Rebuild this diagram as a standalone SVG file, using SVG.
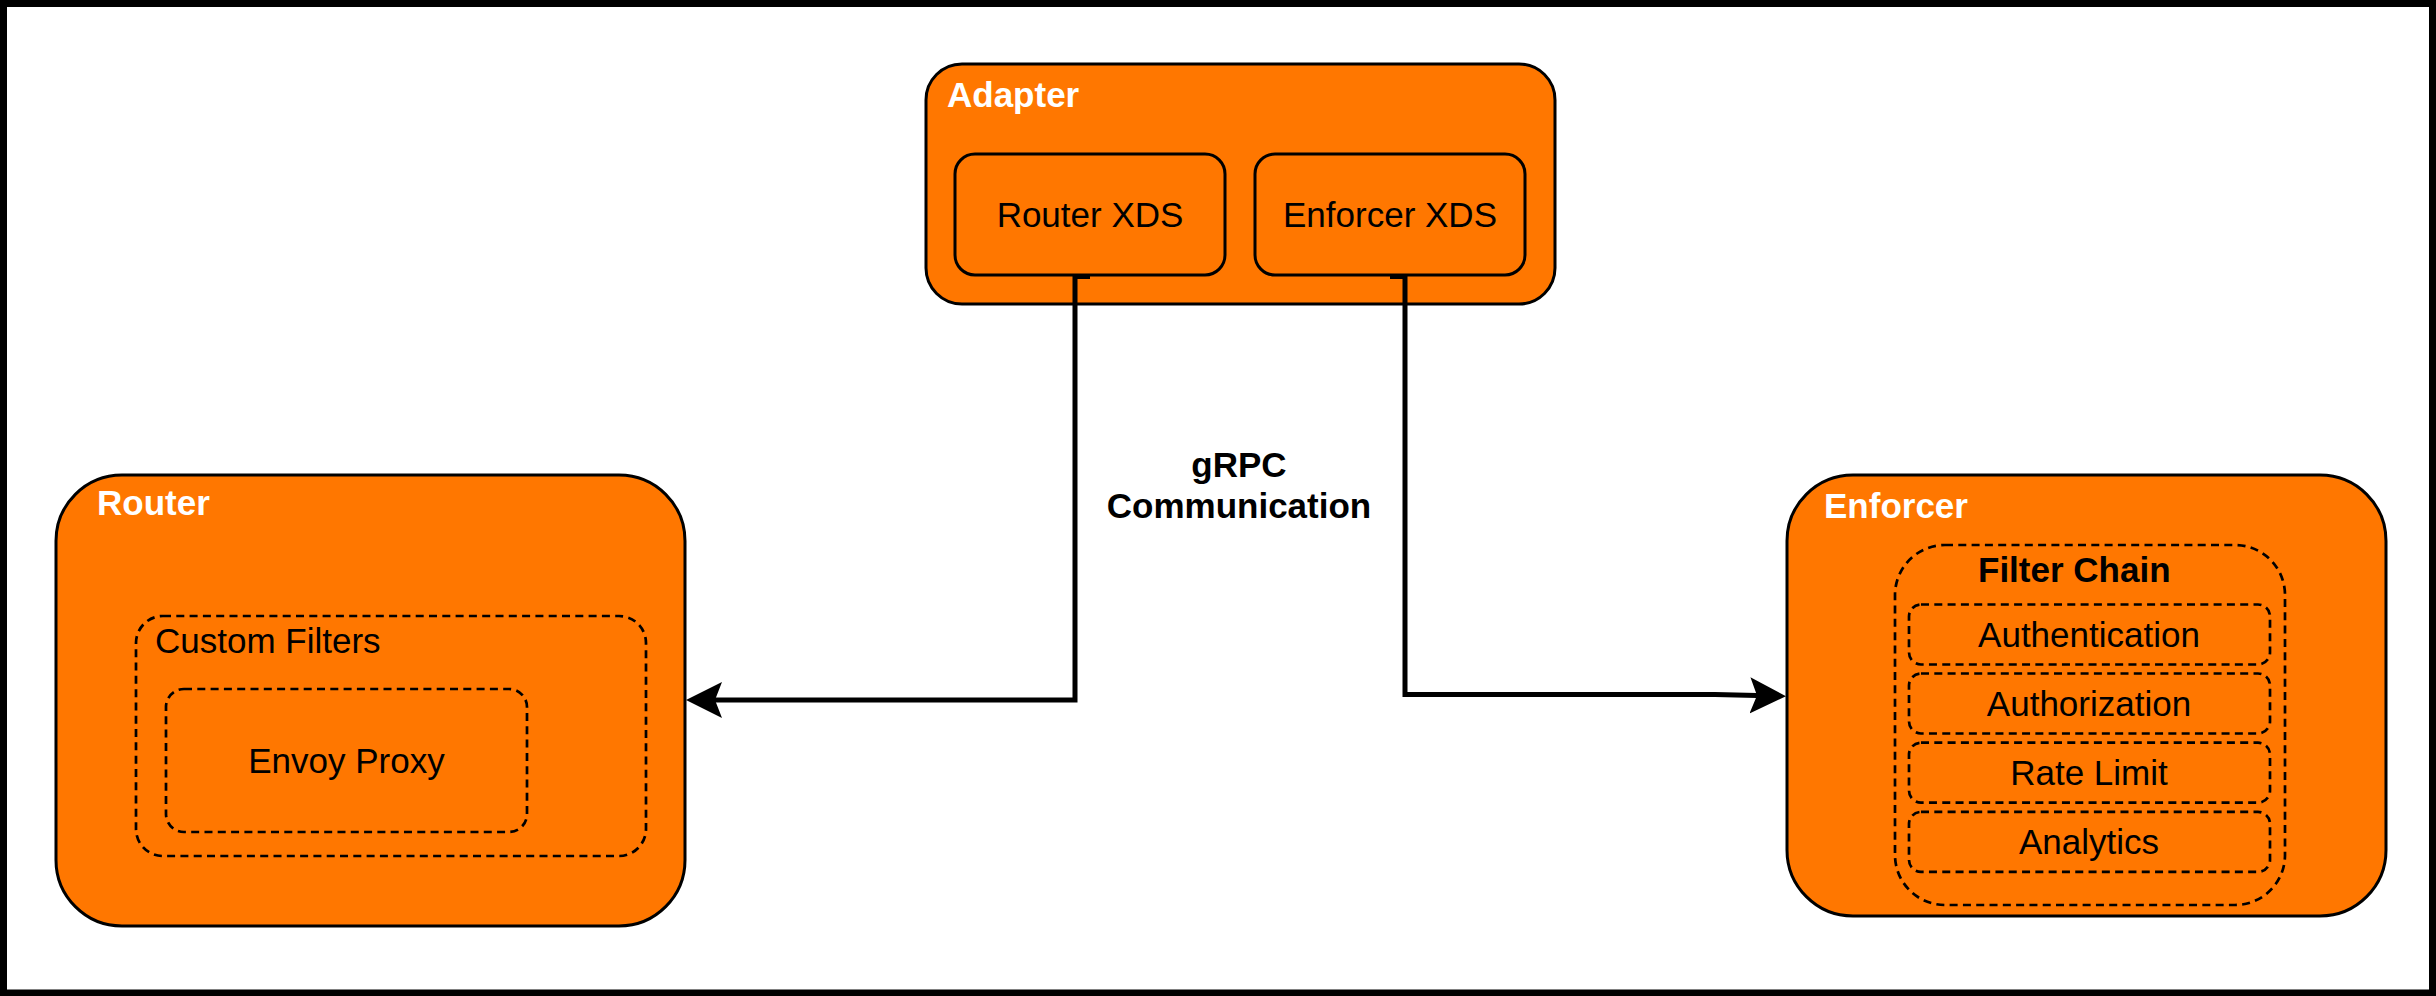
<svg xmlns="http://www.w3.org/2000/svg" width="2436" height="996" viewBox="0 0 2436 996">
<defs>
<style>
.frame{fill:#ffffff;stroke:#000000;stroke-width:7}
.box{fill:#FF7700;stroke:#000000;stroke-width:3}
.dash{fill:none;stroke:#000000;stroke-width:2.7;stroke-dasharray:8 5.3}
.edge{fill:none;stroke:#000000;stroke-width:5;stroke-linejoin:miter}
.t{font-family:"Liberation Sans",Arial,Helvetica,sans-serif;font-size:35px;fill:#000000}
.tb{font-family:"Liberation Sans",Arial,Helvetica,sans-serif;font-size:35px;font-weight:bold;fill:#000000}
.tw{font-family:"Liberation Sans",Arial,Helvetica,sans-serif;font-size:35px;font-weight:bold;fill:#ffffff}
.c{text-anchor:middle}
</style>
<marker id="arrow" markerUnits="userSpaceOnUse" markerWidth="40" markerHeight="40" viewBox="0 0 40 40" refX="7" refY="20" orient="auto">
<path d="M0,2 L36,20 L0,38 L7,20 Z" fill="#000000"/>
</marker>
</defs>
<rect class="frame" x="3.5" y="3.5" width="2429" height="989.5"/>

<g id="adapter">
<rect class="box" x="926" y="64" width="629" height="240" rx="36" ry="36"/>
<text class="tw" x="947" y="107">Adapter</text>
</g>
<g id="router-xds">
<rect class="box" x="955" y="154" width="270" height="121" rx="20" ry="20"/>
<text class="t c" x="1090" y="227">Router XDS</text>
</g>
<g id="enforcer-xds">
<rect class="box" x="1255" y="154" width="270" height="121" rx="20" ry="20"/>
<text class="t c" x="1390" y="227">Enforcer XDS</text>
</g>

<g id="router">
<rect class="box" x="56" y="475" width="629" height="451" rx="66" ry="66"/>
<text class="tw" x="97" y="515">Router</text>
</g>
<g id="custom-filters">
<rect class="dash" x="136" y="616" width="510" height="240" rx="27" ry="27"/>
<text class="t" x="155" y="653">Custom Filters</text>
</g>
<g id="envoy-proxy">
<rect class="dash" x="166" y="689" width="361" height="143" rx="18" ry="18"/>
<text class="t c" x="346.5" y="773">Envoy Proxy</text>
</g>

<g id="enforcer">
<rect class="box" x="1787" y="475" width="599" height="441" rx="66" ry="66"/>
<text class="tw" x="1824" y="518">Enforcer</text>
</g>
<g id="filter-chain">
<rect class="dash" x="1895" y="545" width="390" height="360" rx="50" ry="50"/>
<text class="tb" x="1978" y="582">Filter Chain</text>
</g>
<g id="authentication">
<rect class="dash" x="1909" y="604.5" width="361" height="60" rx="12" ry="12"/>
<text class="t c" x="2089" y="647">Authentication</text>
</g>
<g id="authorization">
<rect class="dash" x="1909" y="673.5" width="361" height="60" rx="12" ry="12"/>
<text class="t c" x="2089" y="716">Authorization</text>
</g>
<g id="rate-limit">
<rect class="dash" x="1909" y="742.7" width="361" height="60" rx="12" ry="12"/>
<text class="t c" x="2089" y="785.2">Rate Limit</text>
</g>
<g id="analytics">
<rect class="dash" x="1909" y="811.9" width="361" height="60" rx="12" ry="12"/>
<text class="t c" x="2089" y="854.4">Analytics</text>
</g>

<g id="connectors">
<path class="edge" d="M1090,276.5 H1075 V700 H715" marker-end="url(#arrow)"/>
<path class="edge" d="M1390,276.5 H1405 V694.5 H1715 L1757,695.5" marker-end="url(#arrow)"/>
<text class="tb c" x="1239" y="477">gRPC</text>
<text class="tb c" x="1239" y="518">Communication</text>
</g>
</svg>
